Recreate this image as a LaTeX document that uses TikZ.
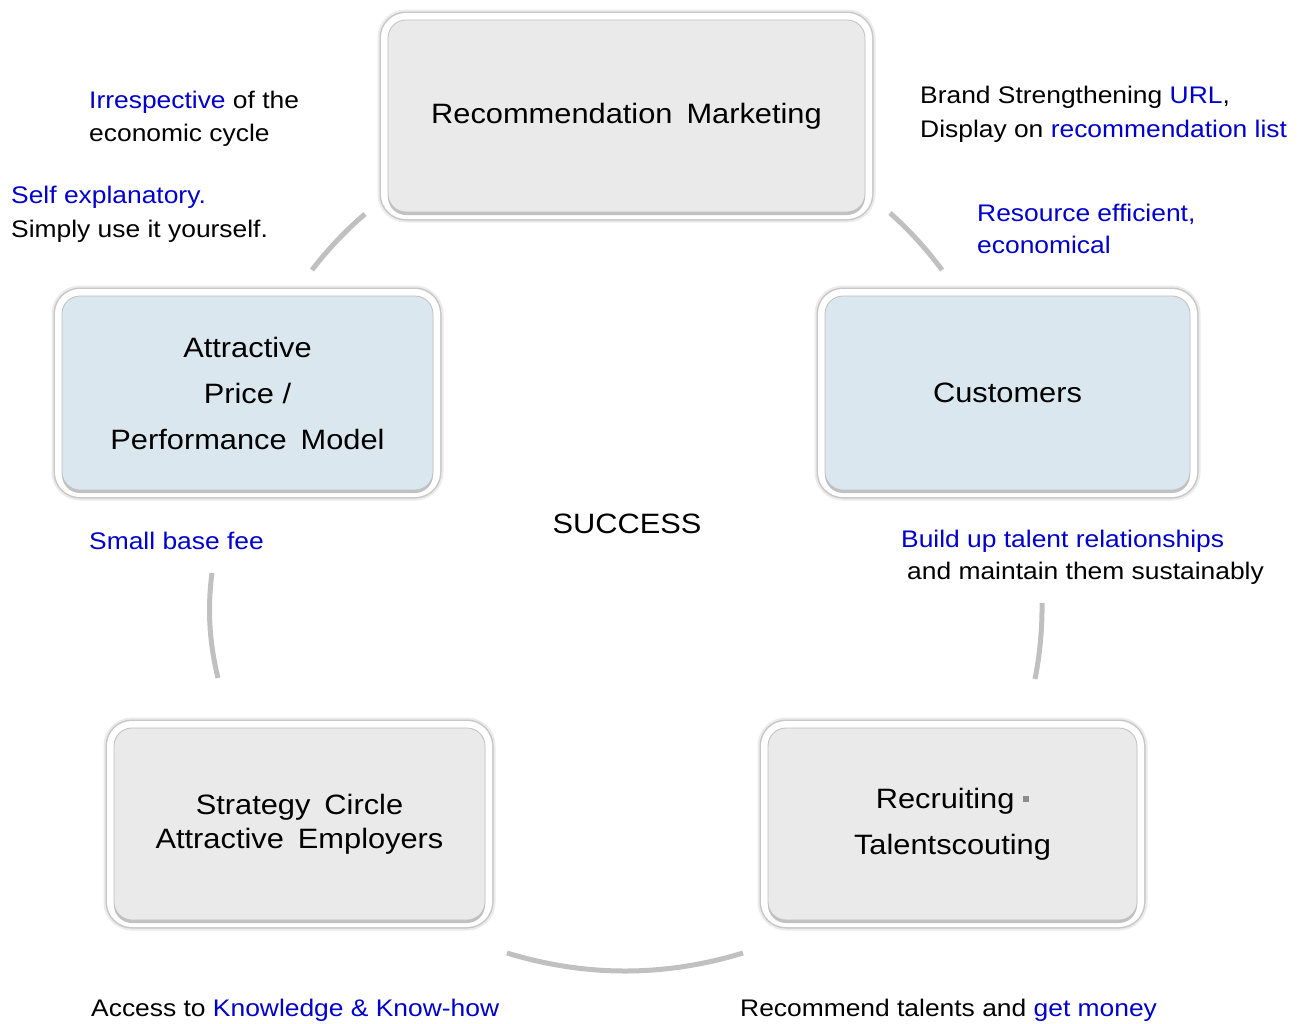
\documentclass[tikz,border=0pt]{standalone}
\usepackage{fontspec}
\setmainfont{Liberation Sans}[FakeStretch=1.1]
\usetikzlibrary{shadows}
\definecolor{lblblue}{RGB}{0,0,204}
\definecolor{arcgray}{RGB}{192,192,192}
\definecolor{boxgray}{RGB}{234,234,234}
\definecolor{boxblue}{RGB}{219,231,239}
\newcommand\wsp{\hspace{0.5em}}
\begin{document}
\begin{tikzpicture}[x=1pt,y=-1pt,
  box/.style={rounded corners=18pt, minimum width=#1, inner sep=0pt,
    preaction={draw=black!8, line width=21pt},
    preaction={draw=black!22, line width=17pt},
    preaction={draw=white, line width=14pt},
    drop shadow={shadow xshift=0pt, shadow yshift=-3pt, opacity=0.4, fill=black!60},
    draw=black!25, line width=0.8pt,
    font=\fontsize{28}{46}\selectfont, align=center, text=black},
  graybox/.style={box=#1, fill=boxgray},
  bluebox/.style={box=#1, fill=boxblue},
  lbl/.style={font=\fontsize{24}{33}\selectfont, align=left, inner sep=0pt, anchor=base west},
  arc/.style={draw=arcgray, line width=5pt}]
\useasboundingbox (0,0) rectangle (1309,1023);
\fill[white] (0,0) rectangle (1309,1023);

% boxes
\node[graybox=477pt, minimum height=192pt] (rm) at (626.5,116) {Recommendation\wsp Marketing};
\node[bluebox=371pt, minimum height=194pt] (apm) at (247.5,393) {Attractive\\Price /\\Performance\wsp Model};
\node[bluebox=365pt, minimum height=194pt] (cust) at (1007.5,393) {Customers};
\node[graybox=371pt, minimum height=192pt, font=\fontsize{28}{34}\selectfont] (sc) at (299.5,824) {Strategy\wsp Circle\\Attractive\wsp Employers};
\node[graybox=369pt, minimum height=192pt] (rec) at (952.5,824) {Recruiting \raisebox{0.22em}{\textcolor{black!45}{\rule{0.22em}{0.22em}}}\\Talentscouting};

% arcs
\draw[arc] (365,214) .. controls (345.4,230.8) and (327.7,249.5) .. (312,270);
\draw[arc] (890,213) .. controls (909.3,230.2) and (926.7,249.2) .. (942,270);
\draw[arc] (212,573) .. controls (207.3,608) and (209.3,643) .. (218,678);
\draw[arc] (1042,603) .. controls (1042.3,628.3) and (1040,653.7) .. (1035,679);
\draw[arc] (507,953) .. controls (585.7,977) and (664.3,977) .. (743,953);

% centre
\node[font=\fontsize{28}{34}\selectfont] (succ) at (627,524) {SUCCESS};

% labels (base anchor = baseline of last line)
\node[lbl, font=\fontsize{24}{33.5}\selectfont] (l1) at (89,141.5) {\textcolor{lblblue}{Irrespective} of the\\economic cycle};
\node[lbl, font=\fontsize{24}{34}\selectfont] (l2) at (11,237) {\textcolor{lblblue}{Self explanatory.}\\Simply use it yourself.};
\node[lbl, font=\fontsize{24}{34}\selectfont] (l3) at (920,137) {Brand Strengthening \textcolor{lblblue}{URL},\\Display on \textcolor{lblblue}{recommendation list}};
\node[lbl, font=\fontsize{24}{31.5}\selectfont, text=lblblue] (l4) at (977,253) {Resource efficient,\\economical};
\node[lbl, text=lblblue] (l5) at (89,549) {Small base fee};
\node[lbl, font=\fontsize{24}{31.5}\selectfont] (l6) at (901,579) {\textcolor{lblblue}{Build up talent relationships}\\\hspace*{6pt}and maintain them sustainably};
\node[lbl] (l7) at (91,1016) {Access to \textcolor{lblblue}{Knowledge \& Know-how}};
\node[lbl] (l8) at (740,1016) {Recommend talents and \textcolor{lblblue}{get money}};
\end{tikzpicture}
\end{document}
